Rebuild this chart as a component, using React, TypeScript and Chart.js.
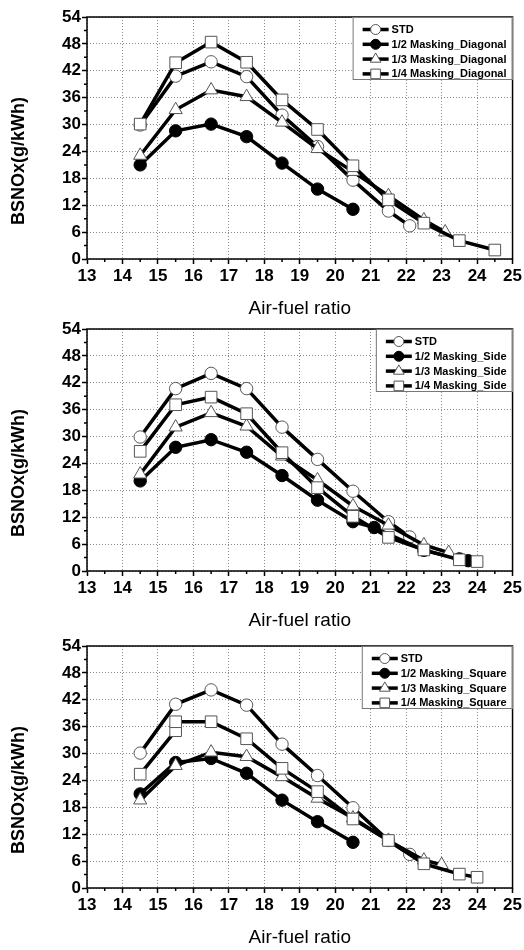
import React, { useEffect, useRef } from 'react';
import { Chart, registerables } from 'chart.js';

Chart.register(...registerables);

const FONT = '"Liberation Sans", Arial, Helvetica, sans-serif';

// ---------- axis settings ----------
const X_MIN = 13;
const X_MAX = 25;
const Y_MIN = 0;
const Y_MAX = 54;
const X_TITLE = 'Air-fuel ratio';
const Y_TITLE = 'BSNOx(g/kWh)';

// ---------- Chart 1 : Diagonal ----------
const diagLabels = ['STD', '1/2 Masking_Diagonal', '1/3 Masking_Diagonal', '1/4 Masking_Diagonal'];
const diagStdX = [14.5, 15.5, 16.5, 17.5, 18.5, 19.5, 20.5, 21.5, 22.1];
const diagStdY = [29.9, 40.8, 44.0, 40.7, 32.1, 25.1, 17.6, 10.7, 7.4];
const diagHalfX = [14.5, 15.5, 16.5, 17.5, 18.5, 19.5, 20.5];
const diagHalfY = [21.0, 28.6, 30.1, 27.3, 21.4, 15.6, 11.1];
const diagThirdX = [14.5, 15.5, 16.5, 17.5, 18.5, 19.5, 20.5, 21.5, 22.5, 23.1];
const diagThirdY = [23.1, 33.3, 37.7, 36.2, 30.5, 24.6, 19.5, 14.1, 8.7, 6.0];
const diagQuarterX = [14.5, 15.5, 16.5, 17.5, 18.5, 19.5, 20.5, 21.5, 22.5, 23.5, 24.5];
const diagQuarterY = [30.1, 43.8, 48.4, 43.9, 35.5, 28.9, 20.8, 13.2, 8.0, 4.1, 2.0];

// ---------- Chart 2 : Side ----------
const sideLabels = ['STD', '1/2 Masking_Side', '1/3 Masking_Side', '1/4 Masking_Side'];
const sideStdX = [14.5, 15.5, 16.5, 17.5, 18.5, 19.5, 20.5, 21.5, 22.1];
const sideStdY = [29.9, 40.7, 44.1, 40.7, 32.1, 24.9, 17.8, 11.0, 7.6];
const sideHalfX = [14.5, 15.5, 16.5, 17.5, 18.5, 19.5, 20.5, 21.1, 22.5, 23.5, 23.75];
const sideHalfY = [20.1, 27.6, 29.3, 26.5, 21.3, 15.8, 11.0, 9.7, 4.6, 2.7, 2.3];
const sideThirdX = [14.5, 15.5, 16.5, 17.5, 18.5, 19.5, 20.5, 21.5, 22.5, 23.2];
const sideThirdY = [21.6, 32.1, 35.3, 32.3, 25.6, 20.3, 14.5, 10.2, 5.8, 4.1];
const sideQuarterX = [14.5, 15.5, 16.5, 17.5, 18.5, 19.5, 20.5, 21.5, 22.5, 23.5, 24.0];
const sideQuarterY = [26.7, 37.1, 38.8, 35.1, 26.4, 18.6, 12.2, 7.5, 4.7, 2.5, 2.1];

// ---------- Chart 3 : Square ----------
const sqLabels = ['STD', '1/2 Masking_Square', '1/3 Masking_Square', '1/4 Masking_Square'];
const sqStdX = [14.5, 15.5, 16.5, 17.5, 18.5, 19.5, 20.5, 21.5, 22.1];
const sqStdY = [30.1, 41.0, 44.2, 40.8, 32.1, 25.1, 17.9, 10.6, 7.5];
const sqHalfX = [14.5, 15.5, 16.5, 17.5, 18.5, 19.5, 20.5];
const sqHalfY = [21.0, 28.0, 28.9, 25.6, 19.6, 14.8, 10.2];
const sqThirdX = [14.5, 15.5, 16.5, 17.5, 18.5, 19.5, 20.5, 21.5, 22.5, 23.0];
const sqThirdY = [19.6, 27.3, 30.3, 29.3, 24.8, 20.0, 15.6, 10.6, 6.2, 5.2];
const sqQuarterX = [14.5, 15.5, 15.5, 16.5, 17.5, 18.5, 19.5, 20.5, 21.5, 22.5, 23.5, 24.0];
const sqQuarterY = [25.4, 35.1, 37.1, 37.1, 33.3, 26.7, 21.5, 15.4, 10.6, 5.4, 3.1, 2.4];

type MarkerKind = 'open-circle' | 'filled-circle' | 'triangle' | 'square';
const MARKERS: MarkerKind[] = ['open-circle', 'filled-circle', 'triangle', 'square'];

interface SeriesDef {
  label: string;
  xs: number[];
  ys: number[];
  marker: MarkerKind;
}

function makeSeries(labels: string[], xsList: number[][], ysList: number[][]): SeriesDef[] {
  return labels.map((label, i) => ({ label, xs: xsList[i], ys: ysList[i], marker: MARKERS[i] }));
}

const chart1 = makeSeries(diagLabels, [diagStdX, diagHalfX, diagThirdX, diagQuarterX], [diagStdY, diagHalfY, diagThirdY, diagQuarterY]);
const chart2 = makeSeries(sideLabels, [sideStdX, sideHalfX, sideThirdX, sideQuarterX], [sideStdY, sideHalfY, sideThirdY, sideQuarterY]);
const chart3 = makeSeries(sqLabels, [sqStdX, sqHalfX, sqThirdX, sqQuarterX], [sqStdY, sqHalfY, sqThirdY, sqQuarterY]);

const MARKER_EDGE = '#555';

function pointProps(kind: MarkerKind) {
  switch (kind) {
    case 'open-circle':
      return { pointStyle: 'circle', pointRadius: 6.2, pointBackgroundColor: '#fff', pointBorderColor: MARKER_EDGE };
    case 'filled-circle':
      return { pointStyle: 'circle', pointRadius: 6.2, pointBackgroundColor: '#000', pointBorderColor: '#000' };
    case 'triangle':
      return { pointStyle: 'triangle', pointRadius: 7.6, pointBackgroundColor: '#fff', pointBorderColor: MARKER_EDGE };
    default:
      return { pointStyle: 'rect', pointRadius: 8.2, pointBackgroundColor: '#fff', pointBorderColor: MARKER_EDGE };
  }
}

function drawLegendMarker(ctx: CanvasRenderingContext2D, kind: MarkerKind, x: number, y: number) {
  ctx.save();
  ctx.lineWidth = 1;
  ctx.beginPath();
  if (kind === 'open-circle' || kind === 'filled-circle') {
    ctx.arc(x, y, 5, 0, Math.PI * 2);
    ctx.fillStyle = kind === 'filled-circle' ? '#000' : '#fff';
    ctx.strokeStyle = kind === 'filled-circle' ? '#000' : MARKER_EDGE;
  } else if (kind === 'triangle') {
    const r = 6.2;
    ctx.moveTo(x, y - r);
    ctx.lineTo(x + r * 0.866, y + r * 0.5);
    ctx.lineTo(x - r * 0.866, y + r * 0.5);
    ctx.closePath();
    ctx.fillStyle = '#fff';
    ctx.strokeStyle = MARKER_EDGE;
  } else {
    ctx.rect(x - 4.8, y - 4.8, 9.6, 9.6);
    ctx.fillStyle = '#fff';
    ctx.strokeStyle = MARKER_EDGE;
  }
  ctx.fill();
  ctx.stroke();
  ctx.restore();
}

const isXMajor = (v: number) => Number.isInteger(v);
const isYMajor = (v: number) => v % 6 === 0;

// frame around the plot + short minor tick marks
const framePlugin = {
  id: 'plotFrame',
  beforeDatasetsDraw(chart: any) {
    const { ctx, chartArea, scales } = chart;
    ctx.save();
    ctx.strokeStyle = '#000';
    ctx.lineWidth = 1.5;
    // minor ticks (outward, shorter than major)
    ctx.beginPath();
    scales.x.ticks.forEach((t: any) => {
      if (!isXMajor(t.value)) {
        const px = scales.x.getPixelForValue(t.value);
        ctx.moveTo(px, chartArea.bottom);
        ctx.lineTo(px, chartArea.bottom + 3);
      }
    });
    scales.y.ticks.forEach((t: any) => {
      if (!isYMajor(t.value)) {
        const py = scales.y.getPixelForValue(t.value);
        ctx.moveTo(chartArea.left, py);
        ctx.lineTo(chartArea.left - 3, py);
      }
    });
    ctx.stroke();
    ctx.strokeRect(chartArea.left, chartArea.top, chartArea.right - chartArea.left, chartArea.bottom - chartArea.top);
    ctx.restore();
  },
};

const yTitlePlugin = {
  id: 'yTitle',
  afterDraw(chart: any) {
    const { ctx, chartArea } = chart;
    ctx.save();
    ctx.translate(19, (chartArea.top + chartArea.bottom) / 2 + 23);
    ctx.rotate(-Math.PI / 2);
    ctx.font = `bold 18px ${FONT}`;
    ctx.fillStyle = '#000';
    ctx.textAlign = 'center';
    ctx.textBaseline = 'middle';
    ctx.fillText(Y_TITLE, 0, 0);
    ctx.restore();
  },
};

const boxLegendPlugin = {
  id: 'boxLegend',
  afterDatasetsDraw(chart: any, _args: any, opts: any) {
    const items: SeriesDef[] = opts.items || [];
    const { ctx, chartArea } = chart;
    ctx.save();
    ctx.font = `bold 11px ${FONT}`;
    const tw = Math.max(...items.map((it) => ctx.measureText(it.label).width));
    const w = 39 + tw + 6;
    const h = 63;
    const right = chartArea.right;
    const top = chartArea.top;
    const left = right - w;
    ctx.fillStyle = '#fff';
    ctx.fillRect(left, top, w, h);
    ctx.strokeStyle = '#777';
    ctx.lineWidth = 1;
    ctx.strokeRect(left + 0.5, top + 0.5, w - 1, h - 1);
    items.forEach((it, i) => {
      const y = top + 12.5 + i * 14.8;
      ctx.strokeStyle = '#000';
      ctx.lineWidth = 3.5;
      ctx.beginPath();
      ctx.moveTo(left + 10, y);
      ctx.lineTo(left + 36, y);
      ctx.stroke();
      drawLegendMarker(ctx, it.marker, left + 23, y);
      ctx.fillStyle = '#000';
      ctx.textAlign = 'left';
      ctx.textBaseline = 'middle';
      ctx.fillText(it.label, left + 39, y + 0.5);
    });
    ctx.restore();
  },
};

function NoxChart({ series, top }: { series: SeriesDef[]; top: number }) {
  const ref = useRef<HTMLCanvasElement>(null);

  useEffect(() => {
    if (!ref.current) return;
    const datasets = series.map((s, i) => ({
      label: s.label,
      data: s.xs.map((x, k) => ({ x, y: s.ys[k] })),
      borderColor: '#000',
      borderWidth: 3.5,
      pointBorderWidth: 1,
      fill: false,
      tension: 0,
      order: series.length - 1 - i,
      ...pointProps(s.marker),
    }));

    const tickFont = { family: FONT, size: 17, weight: 'bold' as const };

    const chart = new Chart(ref.current, {
      type: 'line',
      data: { datasets: datasets as any },
      options: {
        animation: false,
        responsive: false,
        layout: { padding: { top: 17, right: 11, left: 0, bottom: 0 } },
        plugins: {
          legend: { display: false },
          tooltip: { enabled: false },
          boxLegend: { items: series },
        } as any,
        scales: {
          x: {
            type: 'linear',
            min: X_MIN,
            max: X_MAX,
            afterFit: (s: any) => {
              s.height = 61;
            },
            ticks: {
              stepSize: 0.5,
              autoSkip: false,
              maxRotation: 0,
              padding: 2,
              color: '#000',
              font: tickFont,
              callback: (v: any) => (isXMajor(Number(v)) ? String(v) : ''),
            },
            grid: {
              color: (c: any) => (c.tick && isXMajor(c.tick.value) ? '#8a8a8a' : 'rgba(0,0,0,0)'),
              lineWidth: 1,
              drawTicks: true,
              tickLength: 5,
              tickColor: (c: any) => (c.tick && isXMajor(c.tick.value) ? '#000' : 'rgba(0,0,0,0)'),
              tickWidth: 1.5,
            },
            border: { display: false, dash: [1, 2] },
            title: {
              display: true,
              text: X_TITLE,
              color: '#000',
              font: { family: FONT, size: 19 },
              padding: { top: 0, bottom: 0 },
            },
          },
          y: {
            type: 'linear',
            min: Y_MIN,
            max: Y_MAX,
            afterFit: (s: any) => {
              s.width = 87;
            },
            ticks: {
              stepSize: 3,
              autoSkip: false,
              padding: 1,
              color: '#000',
              font: tickFont,
              callback: (v: any) => (isYMajor(Number(v)) ? String(v) : ''),
            },
            grid: {
              color: (c: any) => (c.tick && isYMajor(c.tick.value) ? '#8a8a8a' : 'rgba(0,0,0,0)'),
              lineWidth: 1,
              drawTicks: true,
              tickLength: 5,
              tickColor: (c: any) => (c.tick && isYMajor(c.tick.value) ? '#000' : 'rgba(0,0,0,0)'),
              tickWidth: 1.5,
            },
            border: { display: false, dash: [1, 2] },
          },
        },
      },
      plugins: [framePlugin, boxLegendPlugin, yTitlePlugin],
    } as any);

    return () => chart.destroy();
  }, [series]);

  return (
    <div style={{ position: 'absolute', left: 0, top, width: 524, height: 320 }}>
      <canvas ref={ref} width={524} height={320} style={{ display: 'block' }} />
    </div>
  );
}

export default function App() {
  return (
    <div style={{ position: 'absolute', left: 0, top: 0, width: 524, height: 950, background: '#fff', overflow: 'hidden' }}>
      <NoxChart series={chart1} top={0} />
      <NoxChart series={chart2} top={312} />
      <NoxChart series={chart3} top={629} />
    </div>
  );
}
